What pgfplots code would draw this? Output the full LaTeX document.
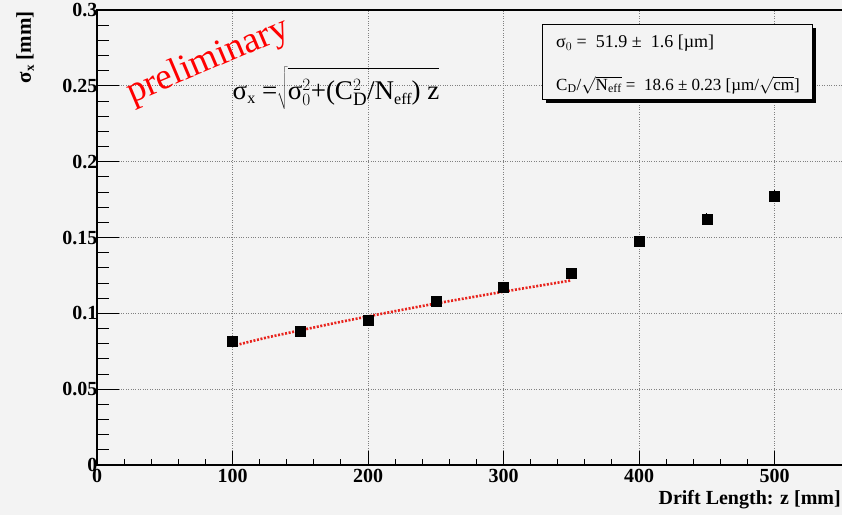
\documentclass[border=0pt]{standalone}
\usepackage{pgfplots}
\pgfplotsset{compat=1.18}
\usepackage{fontspec}
\setmainfont{Liberation Serif}
\definecolor{rootbg}{HTML}{F3F3F3}
\definecolor{fitred}{HTML}{E8231C}

\pgfplotsset{
  rootframe/.style={
    at={(97pt,50pt)}, anchor=south west,
    scale only axis, width=748pt, height=455pt,
    xmin=0, xmax=552, ymin=0, ymax=0.3,
    axis line style={line width=1.1pt},
    xtick pos=bottom, ytick pos=left,
    tick align=inside,
    tick style={line width=1pt, black},
    major grid style={dotted, gray, line width=0.8pt},
    tick label style={font=\fontsize{20}{20}\selectfont\bfseries},
    /pgf/number format/assume math mode=true,
    clip=false,
  }
}

\begin{document}
\begin{tikzpicture}[x=1pt,y=1pt]
\fill[rootbg] (0,0) rectangle (842,515);
\path[use as bounding box] (0,0) rectangle (842,515);
% y axis: ticks, labels and grid
\begin{axis}[rootframe,
xtick=\empty,
ytick={0,0.05,0.1,0.15,0.2,0.25,0.3}, minor y tick num=4,
major tick length=22pt, minor tick length=12pt,
ymajorgrids,
yticklabel style={/pgf/number format/fixed, /pgf/number format/precision=2, xshift=4pt},
]
\end{axis}
% x axis and data
\begin{axis}[rootframe,
ytick=\empty,
xtick={0,100,200,300,400,500}, minor x tick num=4,
major tick length=14pt, minor tick length=6pt,
xmajorgrids,
xticklabel style={yshift=-1pt},
]
% fit curve sampled at the drawn red line
\addplot[fitred, line width=2.6pt, dash pattern=on 2pt off 1.6pt] coordinates {
(100,0.0785) (125,0.0840) (150,0.0888) (175,0.0935) (200,0.0980)
(225,0.1023) (250,0.1065) (275,0.1104) (300,0.1143) (325,0.1180) (350,0.1217)
};
% measured points
\addplot[only marks, mark=square*, mark size=5pt, black,
  error bars/.cd, y dir=both, y explicit, error bar style={line width=1.2pt}, error mark=none]
coordinates {
(100,0.0818) +- (0,0.0015)
(150,0.0884) +- (0,0.0015)
(200,0.0956) +- (0,0.0015)
(250,0.1080) +- (0,0.0015)
(300,0.1170) +- (0,0.0015)
(350,0.1266) +- (0,0.0015)
(400,0.1477) +- (0,0.0020)
(450,0.1620) +- (0,0.0040)
(500,0.1774) +- (0,0.0040)
};
% axis titles
\node[rotate=90, anchor=east, inner sep=0pt, font=\fontsize{21}{21}\selectfont\bfseries]
  at ([xshift=-72pt,yshift=-1pt]rel axis cs:0,1) {σ\raisebox{-3pt}{\fontsize{13}{13}\selectfont x} [mm]};
\node[anchor=north east, inner sep=0pt, font=\fontsize{20}{20}\selectfont\bfseries]
  at ([yshift=-25pt]axis cs:549,0) {Drift Length: z [mm]};
% watermark and formula
\node[rotate=23, text=red, font=\fontsize{37}{37}\selectfont] at (axis cs:82,0.266) {preliminary};
\node[anchor=base west, inner sep=0pt, font=\fontsize{27}{27}\selectfont]
  at (axis cs:100,0.2413) {σ\raisebox{-4pt}{\fontsize{16}{16}\selectfont x} =$\sqrt{\rule[-9pt]{0pt}{38pt}\mbox{σ$_0^2$+(C$_{\mathrm{D}}^2$/N\raisebox{-5pt}{\fontsize{16}{16}\selectfont eff}) z}}$};
% stats box
\fill[black] (axis cs:331,0.2388) rectangle (axis cs:530.5,0.2880);
\draw[fill=rootbg, line width=1pt] (axis cs:329,0.2905) rectangle (axis cs:528,0.2407);
\node[anchor=west, inner sep=0pt, font=\fontsize{18}{18}\selectfont]
  at (axis cs:338.7,0.278) {σ$_0$ =\ \ 51.9 ±\ \ 1.6 [µm]};
\node[anchor=west, inner sep=0pt, font=\fontsize{17}{17}\selectfont]
  at (axis cs:338.7,0.2505) {C$_{\mathrm{D}}$/$\sqrt{\mbox{N$_{\mathrm{eff}}$}}$ =\ \ 18.6 ± 0.23 [µm/$\sqrt{\mbox{cm}}$]};
\end{axis}
\end{tikzpicture}
\end{document}
